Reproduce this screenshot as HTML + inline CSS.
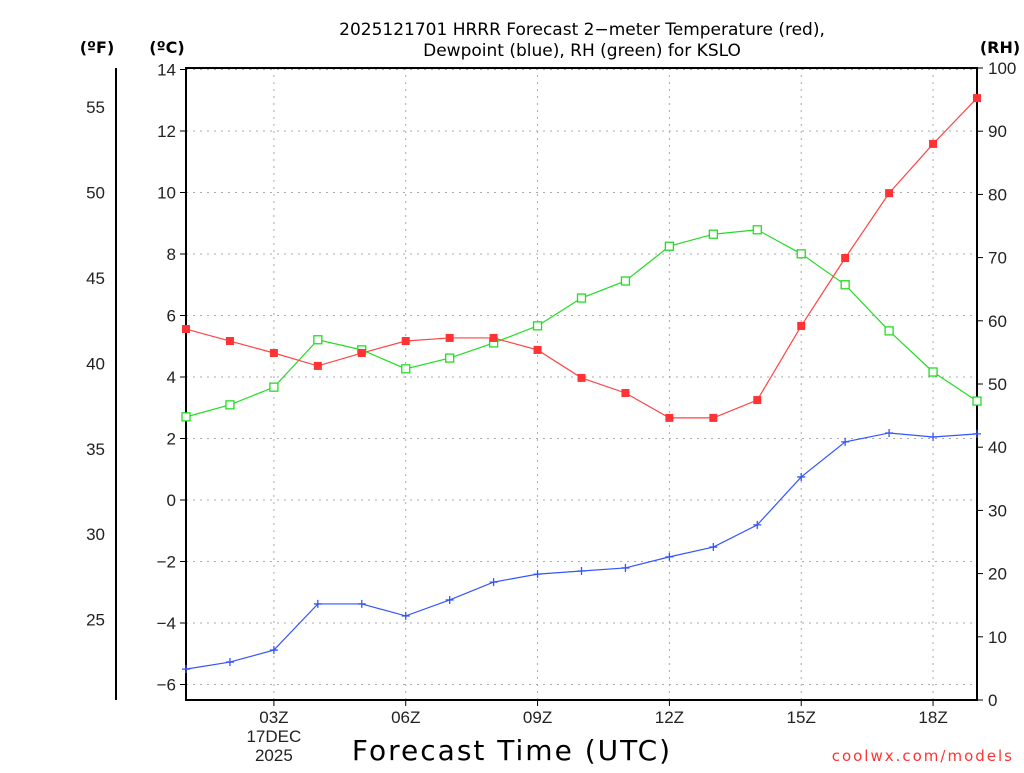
<!DOCTYPE html>
<html><head><meta charset="utf-8"><style>
html,body{margin:0;padding:0;background:#fff;}
svg text{font-family:"DejaVu Sans","Liberation Sans",sans-serif;}
svg text.tk{font-family:"Liberation Sans",sans-serif;}
</style></head><body>
<svg id="chart" width="1024" height="768" xmlns="http://www.w3.org/2000/svg">
<text x="582" y="35" text-anchor="middle" font-size="17">2025121701 HRRR Forecast 2−meter Temperature (red),</text>
<text x="582" y="56" text-anchor="middle" font-size="17">Dewpoint (blue), RH (green) for KSLO</text>
<text x="97" y="53" text-anchor="middle" font-size="16" font-weight="bold">(ºF)</text>
<text x="167" y="53" text-anchor="middle" font-size="16" font-weight="bold">(ºC)</text>
<text x="1000" y="53" text-anchor="middle" font-size="16" font-weight="bold">(RH)</text>
<text x="512" y="760" text-anchor="middle" font-size="28" letter-spacing="2">Forecast Time (UTC)</text>
<text x="1014" y="761" text-anchor="end" font-size="15" fill="#ff3333" font-family="Liberation Mono, monospace" letter-spacing="2">coolwx.com/models</text>
<g id="grid"></g><g id="axes"></g><g id="series"></g>
</svg>
<script>
const hours=[1,2,3,4,5,6,7,8,9,10,11,12,13,14,15,16,17,18,19];
const tempC=[5.56,5.17,4.78,4.36,4.78,5.17,5.27,5.27,4.88,3.97,3.48,2.67,2.67,3.25,5.66,7.87,9.98,11.58,13.07];
const dewC=[-5.50,-5.27,-4.88,-3.38,-3.38,-3.77,-3.25,-2.67,-2.41,-2.31,-2.21,-1.85,-1.53,-0.81,0.75,1.89,2.18,2.05,2.15];
const rh=[44.8,46.7,49.5,57.0,55.4,52.4,54.1,56.5,59.2,63.6,66.3,71.8,73.7,74.4,70.6,65.7,58.4,51.9,47.3];
const cTicks=[14,12,10,8,6,4,2,0,-2,-4,-6];
const fTicks=[55,50,45,40,35,30,25];
const rhTicks=[100,90,80,70,60,50,40,30,20,10,0];
const xTicks=[3,6,9,12,15,18];
const xTickLabels=["03Z","06Z","09Z","12Z","15Z","18Z"];

const L=186,R=977,T=68,B=700;
const x=h=>L+(h-1)*(R-L)/18;
const yC=c=>500-c*30.75;
const yF=f=>yC((f-32)*5/9);
const yR=v=>B-v*(B-T)/100;
const NS="http://www.w3.org/2000/svg";
function mk(tag,parent,attrs,txt){const e=document.createElementNS(NS,tag);for(const k in attrs)e.setAttribute(k,attrs[k]);if(txt!==undefined)e.textContent=txt;parent.appendChild(e);return e;}
const grid=document.getElementById('grid'),axes=document.getElementById('axes'),ser=document.getElementById('series');

cTicks.forEach(c=>{
  const g=mk('line',grid,{x1:L,x2:R,y1:yC(c),y2:yC(c),stroke:'#aaa','stroke-dasharray':'2,5','stroke-width':1});
  
  
  mk('line',axes,{x1:L-6,x2:L,y1:yC(c),y2:yC(c),stroke:'#000'});
  const t=mk('text',axes,{class:'tk',x:L-10,y:yC(c)+6,'text-anchor':'end','font-size':17,fill:'#222'},c<0?'−'+(-c):String(c));
  
  
});
xTicks.forEach((h,i)=>{
  const g=mk('line',grid,{x1:x(h),x2:x(h),y1:T,y2:B,stroke:'#aaa','stroke-dasharray':'2,5','stroke-width':1});
  
  
  mk('line',axes,{x1:x(h),x2:x(h),y1:B,y2:B+6,stroke:'#000'});
  const t=mk('text',axes,{class:'tk',x:x(h),y:723,'text-anchor':'middle','font-size':17,fill:'#222'},xTickLabels[i]);
  
  
});
[["17DEC",742],["2025",761]].forEach(([s,yy])=>{
  const t=mk('text',axes,{class:'tk',x:x(3),y:yy,'text-anchor':'middle','font-size':17,fill:'#222'},s);
  
  
});
rhTicks.forEach(v=>{
  mk('line',axes,{x1:R,x2:R+6,y1:yR(v),y2:yR(v),stroke:'#000'});
  const t=mk('text',axes,{class:'tk',x:R+11,y:yR(v)+6,'font-size':17,fill:'#222'},String(v));
  
  
});
const fa=mk('line',axes,{x1:116,x2:116,y1:T,y2:B,stroke:'#000','stroke-width':2});


fTicks.forEach(f=>{
  const t=mk('text',axes,{class:'tk',x:105,y:yF(f)+6,'text-anchor':'end','font-size':17,fill:'#222'},String(f));
  
  
});
const fr=mk('rect',axes,{x:L,y:T,width:R-L,height:B-T,fill:'none',stroke:'#000','stroke-width':2});



function line(vals,yf,color,name){
  const pl=mk('polyline',ser,{points:vals.map((v,i)=>x(hours[i])+','+yf(v)).join(' '),fill:'none',stroke:color,'stroke-width':1.2});
  
  
}
line(rh,yR,'#22dd22','rh');
line(tempC,yC,'#ff4444','temperature');
line(dewC,yC,'#3355ff','dewpoint');
rh.forEach((v,i)=>{
  const m=mk('rect',ser,{x:x(hours[i])-4,y:yR(v)-4,width:8,height:8,fill:'#fff',stroke:'#22dd22','stroke-width':1.3});
  
  
});
tempC.forEach((v,i)=>{
  const m=mk('rect',ser,{x:x(hours[i])-4,y:yC(v)-4,width:8,height:8,fill:'#ff3333'});
  
  
});
dewC.forEach((v,i)=>{
  const cx=x(hours[i]),cy=yC(v);
  const m=mk('path',ser,{d:`M${cx-4},${cy}H${cx+4}M${cx},${cy-4}V${cy+4}`,stroke:'#3355ff','stroke-width':1.3});
  
  
});
</script>
</body></html>
